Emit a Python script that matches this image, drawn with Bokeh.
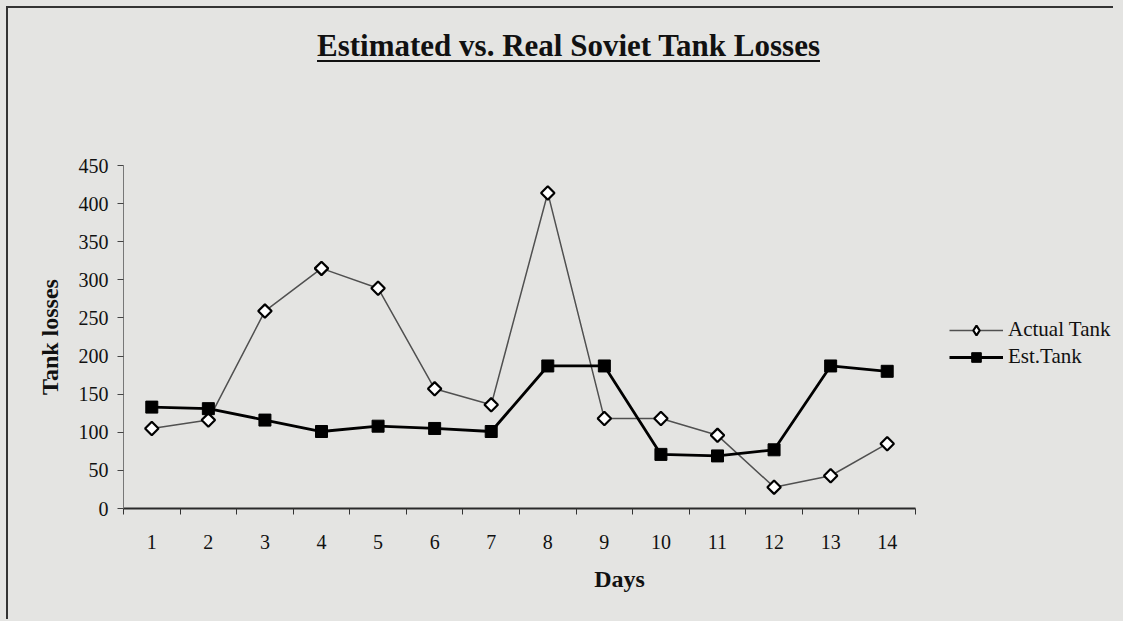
import math
from bokeh.plotting import figure
from bokeh.models import Div, Legend, LegendItem, FixedTicker, Range1d
from bokeh.layouts import column
from bokeh.embed import file_html
from bokeh.resources import INLINE

# ---- data ----
days = list(range(1, 15))
actual_tank = [105, 116, 259, 315, 289, 157, 136, 414, 118, 118, 96, 28, 43, 85]
est_tank = [133, 131, 116, 101, 108, 105, 101, 187, 187, 71, 69, 77, 187, 180]
y_ticks = [0, 50, 100, 150, 200, 250, 300, 350, 400, 450]
series_names = ["Actual Tank", "Est.Tank"]
title_text = "Estimated vs. Real Soviet Tank Losses"
x_title = "Days"
y_title = "Tank losses"

BG = "#e4e4e2"
SERIF = "Liberation Serif"

# layout geometry (pixels)
FIG_W = 1107
LEFT = 115          # space left of the plot area
AXIS_W = 792        # width of the 14-day category axis
FRAME_W = FIG_W - LEFT  # plot area extends under the legend on the right
x_start = 0.5
x_axis_end = x_start + len(days)
x_end = x_start + len(days) * FRAME_W / AXIS_W

title_div = Div(
    text=(
        '<div style="width:1107px;box-sizing:border-box;padding-left:14px;padding-top:20px;'
        'text-align:center;font-family:\'Liberation Serif\';font-size:31px;font-weight:bold;'
        'line-height:36px;color:#111;text-decoration:underline;text-decoration-thickness:2px;'
        'text-underline-offset:4px;">' + title_text + '</div>'
    ),
    width=FIG_W, height=70, margin=0,
    styles={"background-color": BG},
)

p = figure(
    width=FIG_W, height=543,
    x_range=Range1d(x_start, x_end), y_range=Range1d(0, 450),
    output_backend="svg", toolbar_location=None,
    min_border_left=LEFT, min_border_right=0, min_border_top=87, min_border_bottom=113,
    background_fill_color=BG, border_fill_color=BG, outline_line_color=None,
    margin=0,
)
p.xgrid.visible = False
p.ygrid.visible = False

r_act_line = p.line(days, actual_tank, line_color="#505050", line_width=1.5)
r_act_pts = p.scatter(days, actual_tank, marker="square", angle=math.pi / 4, size=9.5,
                      fill_color="white", line_color="black", line_width=2.2)
r_est_line = p.line(days, est_tank, line_color="black", line_width=2.8)
r_est_pts = p.scatter(days, est_tank, marker="square", size=12,
                      fill_color="black", line_color="black", line_width=1)
# legend-only glyph for the diamond marker (legend swatches ignore marker angle)
r_act_key = p.scatter([float("nan")], [float("nan")], marker="diamond", size=15,
                      fill_color="white", line_color="black", line_width=2.2)

# x axis
xa = p.xaxis[0]
xa.bounds = (x_start, x_axis_end)
xa.ticker = FixedTicker(ticks=days, minor_ticks=[d + 0.5 for d in range(0, 15)])
xa.major_tick_out = 0
xa.major_tick_in = 0
xa.minor_tick_out = 6
xa.minor_tick_in = 0
xa.minor_tick_line_color = "#333333"
xa.axis_line_color = "#2a2a2a"
xa.axis_line_width = 2
xa.major_label_text_font = SERIF
xa.major_label_text_font_size = "20px"
xa.major_label_text_color = "#111111"
xa.major_label_standoff = 20
xa.axis_label = x_title
xa.axis_label_text_font = SERIF
xa.axis_label_text_font_style = "bold"
xa.axis_label_text_font_size = "24px"
xa.axis_label_text_color = "#111111"
xa.axis_label_standoff = 14

# y axis
ya = p.yaxis[0]
ya.ticker = FixedTicker(ticks=y_ticks)
ya.major_tick_out = 6
ya.major_tick_in = 0
ya.minor_tick_out = 0
ya.minor_tick_in = 0
ya.major_tick_line_color = "#444444"
ya.axis_line_color = "#777777"
ya.axis_line_width = 1
ya.major_label_text_font = SERIF
ya.major_label_text_font_size = "20px"
ya.major_label_text_color = "#111111"
ya.major_label_standoff = 9
ya.axis_label = y_title
ya.axis_label_text_font = SERIF
ya.axis_label_text_font_style = "bold"
ya.axis_label_text_font_size = "24px"
ya.axis_label_text_color = "#111111"
ya.axis_label_standoff = 13

legend = Legend(
    items=[
        LegendItem(label=series_names[0], renderers=[r_act_line, r_act_key]),
        LegendItem(label=series_names[1], renderers=[r_est_line, r_est_pts]),
    ],
    location=(826, 139),
    orientation="vertical",
    padding=0, margin=0, spacing=2,
    glyph_width=54, glyph_height=24, label_height=24,
    label_standoff=5,
    label_text_font=SERIF, label_text_font_size="21px", label_text_color="#111111",
    background_fill_alpha=0, border_line_color=None,
)
p.add_layout(legend)

layout = column(
    title_div, p,
    margin=(8, 0, 0, 8),
    styles={"background-color": BG, "box-shadow": "-2px -2px 0 0 #333333"},
)

html = file_html(layout, INLINE)
html = html.replace(
    "</head>",
    "<style>html,body{background-color:%s !important;}</style></head>" % BG, 1)
open("out.html", "w").write(html)
